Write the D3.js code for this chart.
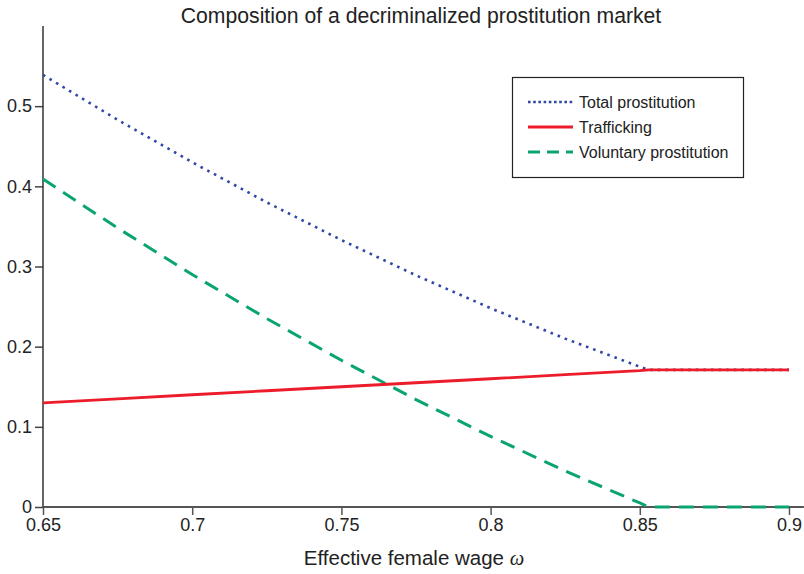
<!DOCTYPE html>
<html>
<head>
<meta charset="utf-8">
<script src="https://cdn.jsdelivr.net/npm/d3@7/dist/d3.min.js"></script>
<style>
  body { margin: 0; background: #fff; }
  svg { display: block; font-family: "Liberation Sans", Arial, Helvetica, sans-serif; }
</style>
</head>
<body>
<svg id="chart" width="804" height="574"></svg>
<script>
// ---- data ----
const wage = [0.65, 0.675, 0.70, 0.725, 0.75, 0.775, 0.80, 0.825, 0.85, 0.853, 0.875, 0.90];
const total = [0.539, 0.483, 0.430, 0.380, 0.333, 0.289, 0.248, 0.210, 0.175, 0.171, 0.171, 0.171];
const trafficking = [0.130, 0.135, 0.140, 0.145, 0.150, 0.155, 0.160, 0.165, 0.170, 0.171, 0.171, 0.171];
const voluntary = [0.409, 0.348, 0.290, 0.235, 0.183, 0.134, 0.088, 0.045, 0.005, 0.000, 0.000, 0.000];
const xTicks = [0.65, 0.70, 0.75, 0.80, 0.85, 0.90];
const xTickLabels = ["0.65", "0.7", "0.75", "0.8", "0.85", "0.9"];
const yTicks = [0, 0.1, 0.2, 0.3, 0.4, 0.5];
const yTickLabels = ["0", "0.1", "0.2", "0.3", "0.4", "0.5"];
const seriesNames = ["Total prostitution", "Trafficking", "Voluntary prostitution"];

const svg = d3.select("#chart");
const x = d3.scaleLinear().domain([0.65, 0.90]).range([43, 789]);
const y = d3.scaleLinear().domain([0, 0.6]).range([507, 26]);

// title
svg.append("text").attr("x", 421).attr("y", 23).attr("text-anchor", "middle")
  .attr("font-size", 21.2).attr("fill", "#222")
  .text("Composition of a decriminalized prostitution market");

// axes
const xAxis = d3.axisBottom(x).tickValues(xTicks)
  .tickFormat((d, i) => xTickLabels[i]).tickSize(8).tickSizeOuter(0).tickPadding(3);
const gx = svg.append("g").attr("transform", `translate(0,${y(0)})`).call(xAxis);
gx.select(".domain").remove();
gx.selectAll(".tick line").attr("stroke", "#555").attr("stroke-width", 1.5);
gx.selectAll(".tick text").attr("font-size", 18).attr("fill", "#222").attr("font-family", "Liberation Sans, Arial, sans-serif");
svg.append("line").attr("x1", x(0.65)).attr("x2", x(0.905)).attr("y1", y(0)).attr("y2", y(0))
  .attr("stroke", "#555").attr("stroke-width", 2);

const yAxis = d3.axisLeft(y).tickValues(yTicks)
  .tickFormat((d, i) => yTickLabels[i]).tickSize(8).tickSizeOuter(0).tickPadding(3);
const gy = svg.append("g").attr("transform", `translate(${x(0.65)},0)`).call(yAxis);
gy.select(".domain").remove();
gy.selectAll(".tick line").attr("stroke", "#444").attr("stroke-width", 1.5);
gy.selectAll(".tick text").attr("font-size", 18).attr("fill", "#222").attr("font-family", "Liberation Sans, Arial, sans-serif");
svg.append("line").attr("x1", x(0.65)).attr("x2", x(0.65)).attr("y1", y(0)).attr("y2", y(0.6))
  .attr("stroke", "#333").attr("stroke-width", 1.5);

// x axis label
const lbl = svg.append("text").attr("x", 414).attr("y", 565).attr("text-anchor", "middle")
  .attr("font-size", 20.5).attr("fill", "#222");
lbl.append("tspan").text("Effective female wage ");
lbl.append("tspan").attr("font-style", "italic").attr("font-family", "Liberation Serif, Times New Roman, serif").text("ω");

// lines
const line = d3.line().x((d, i) => x(wage[i])).y(d => y(d));
const styles = [
  { data: total, color: "#3146a6", width: 2.6, dash: "2.6 5" },
  { data: trafficking, color: "#ec1c2a", width: 2.8, dash: null },
  { data: voluntary, color: "#0aa56e", width: 3, dash: "15 9" }
];
svg.append("path").datum(voluntary).attr("d", line).attr("fill", "none")
  .attr("stroke", styles[2].color).attr("stroke-width", styles[2].width).attr("stroke-dasharray", styles[2].dash);
svg.append("path").datum(total).attr("d", line).attr("fill", "none")
  .attr("stroke", styles[0].color).attr("stroke-width", styles[0].width).attr("stroke-dasharray", styles[0].dash);
svg.append("path").datum(trafficking).attr("d", line).attr("fill", "none")
  .attr("stroke", styles[1].color).attr("stroke-width", styles[1].width);

// legend
const lg = svg.append("g");
lg.append("rect").attr("x", 512.5).attr("y", 77.5).attr("width", 231).attr("height", 100)
  .attr("fill", "#fff").attr("stroke", "#222").attr("stroke-width", 1.2);
const rowsY = [102, 127, 152];
seriesNames.forEach((name, i) => {
  const s = styles[i];
  lg.append("line").attr("x1", 528).attr("x2", 573).attr("y1", rowsY[i]).attr("y2", rowsY[i])
    .attr("stroke", s.color).attr("stroke-width", s.width)
    .attr("stroke-dasharray", i === 0 ? "2.6 2.6" : (i === 2 ? "12 7" : null));
  lg.append("text").attr("x", 579).attr("y", rowsY[i] + 5.8).attr("font-size", 16)
    .attr("fill", "#222").text(name);
});
</script>
</body>
</html>
